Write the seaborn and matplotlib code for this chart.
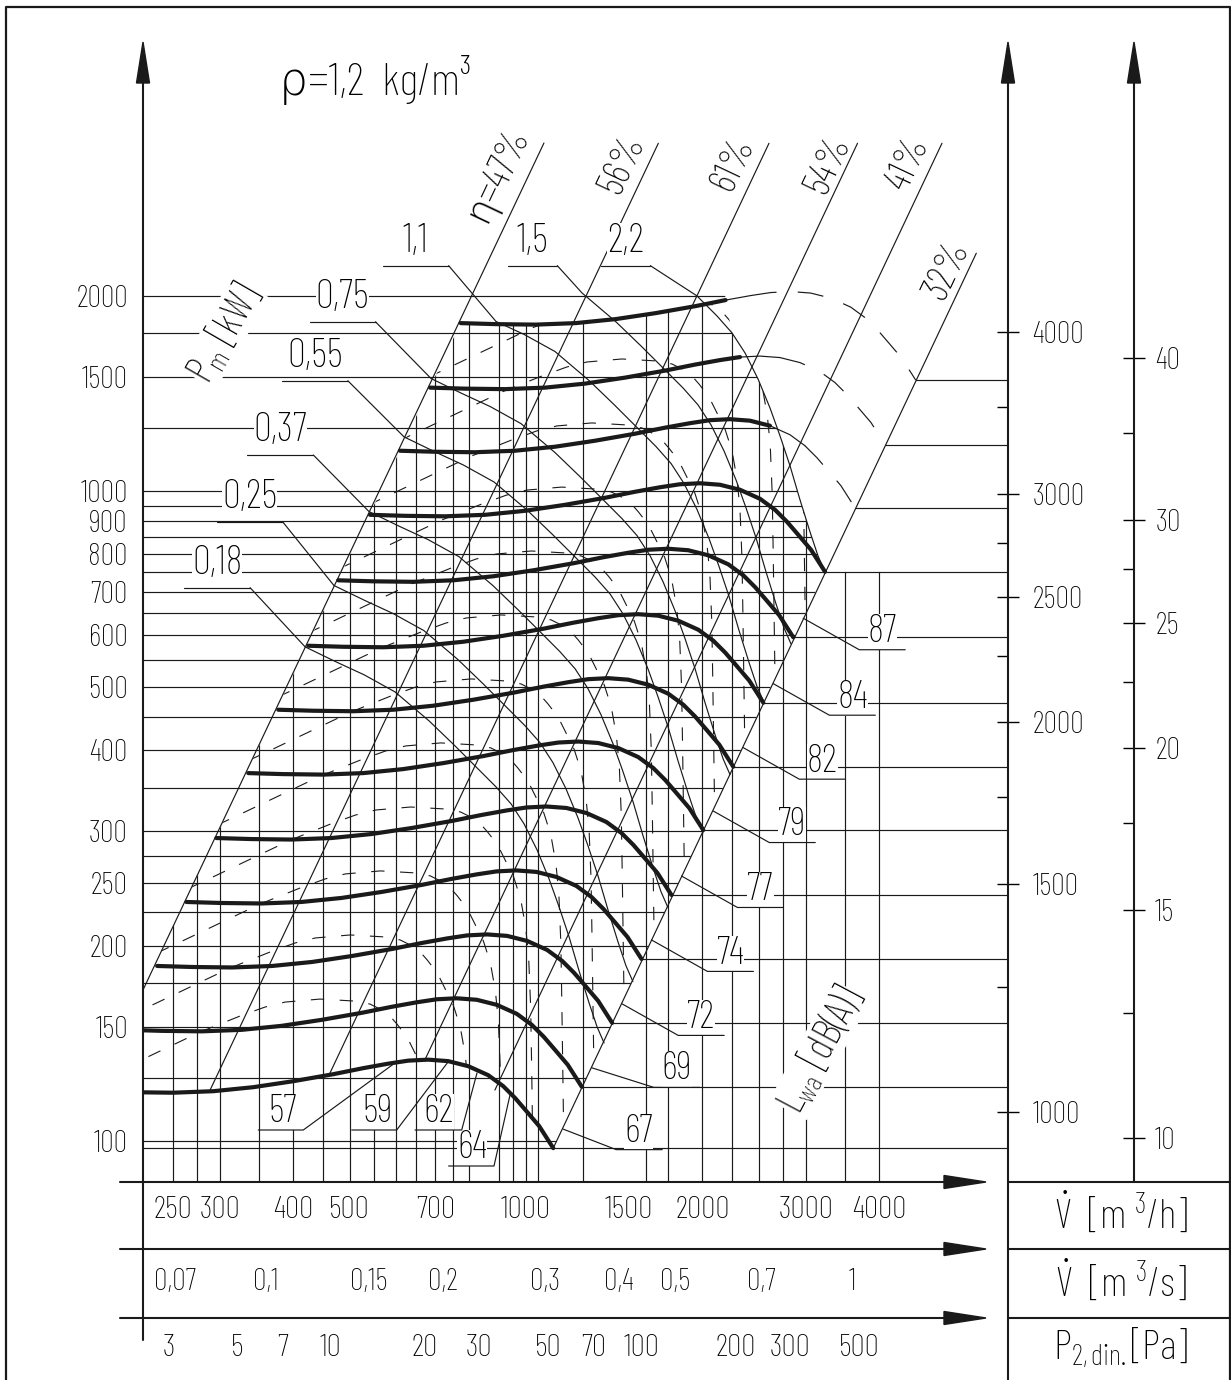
import numpy as np
import matplotlib
matplotlib.use("Agg")
import matplotlib.pyplot as plt
import seaborn as sns
from matplotlib.patches import Polygon
from matplotlib.ticker import NullFormatter, NullLocator

sns.set_theme(style="white")
plt.rcParams["font.family"] = ["Barlow Condensed", "DejaVu Sans"]
plt.rcParams["font.weight"] = "light"
plt.rcParams["mathtext.fontset"] = "custom"
for k in ("rm", "it", "bf", "sf"):
    plt.rcParams["mathtext." + k] = "Barlow Condensed:weight=light"
for k in ("text.color", "axes.labelcolor", "xtick.color", "ytick.color"):
    plt.rcParams[k] = "black"

# ---------------------------------------------------------------- data
# fan speed curves: flow [m3/h] and pressure [Pa] at the right-hand end of each curve
curve_end_V = [1113, 1245, 1403, 1574, 1771, 2007, 2258, 2541, 2858, 3238, 3642, 4099, 4624]
curve_end_p = [97.6, 121.3, 152.1, 190.8, 239.3, 301.2, 377.0, 472.9, 596.3, 752.0, 943.6, 1180, 1483]
# shared shape of the speed curves, as fractions of the end point
curve_shape_V = [0.1673, 0.1920, 0.2246, 0.2629, 0.3076, 0.3600, 0.4213, 0.4738, 0.5231, 0.5657,
                 0.6117, 0.6618, 0.7161, 0.7746, 0.8217, 0.8614, 0.9030, 0.9464, 1.0]
curve_shape_p = [1.2235, 1.2191, 1.2170, 1.2235, 1.2410, 1.2676, 1.2995, 1.3275, 1.3490, 1.3634,
                 1.3682, 1.3610, 1.3369, 1.2949, 1.2454, 1.1935, 1.1360, 1.0810, 1.0]

# motor power lines [kW]
power_kw = ["0,18", "0,25", "0,37", "0,55", "0,75", "1,1", "1,5", "2,2"]
power_end_V = [1359, 1522, 1747, 2005, 2229, 2548, 2833, 3238]
power_end_p = [141.7, 176.1, 228.8, 298.1, 366.6, 473.2, 582.4, 751.5]
power_shape_V = [0.3089, 0.3488, 0.3896, 0.4398, 0.5027, 0.5546, 0.6047, 0.6541, 0.6940, 0.7303,
                 0.7685, 0.8056, 0.8379, 0.8716, 0.9065, 0.9428, 0.9729, 1.0]
power_shape_p = [4.0675, 3.8571, 3.6835, 3.4674, 3.1293, 2.8736, 2.6585, 2.4764, 2.3316, 2.1723,
                 1.9812, 1.7876, 1.6194, 1.4557, 1.2904, 1.1522, 1.0583, 1.0]
power_label_V = [338.2, 384.2, 433.7, 496.5, 553.6, 737.9, 1130.9, 1630]
power_label_p = [710.7, 898.0, 1137, 1479.6, 1823, 2224, 2224, 2224]

# sound power level lines L_wa [dB(A)]
noise_db = [57, 59, 62, 64, 67, 69, 72, 74, 77, 79, 82, 84, 87]
noise_top_V = [445.1, 501.2, 564.2, 635.5, 715.5, 805.7, 907.3, 1021, 1150, 1295, 1458, 1642, 1849]
noise_top_p = [165.5, 207.7, 260.6, 326.8, 410.1, 514.4, 645.3, 809.4, 1015, 1274, 1598, 2005, 2515]
noise_shape_V = [0.3745, 0.4557, 0.6240, 0.7303, 0.8056, 0.8716, 1.0, 1.1474, 1.2170, 1.2657, 1.3164,
                 1.3532, 1.4078, 1.4410, 1.4990, 1.5408, 1.5714, 1.5900, 1.6026, 1.6089, 1.6152, 1.6216, 1.6280]
noise_shape_p = [0.7154, 0.7775, 0.8897, 0.9416, 0.9721, 0.9894, 1.0, 0.9929, 0.9825, 0.9652, 0.9416,
                 0.9153, 0.8740, 0.8379, 0.7803, 0.7222, 0.6536, 0.5878, 0.4924, 0.3981, 0.3107, 0.2424, 0.1891]

# efficiency lines
eta_labels = ["η=47%", "56%", "61%", "54%", "41%", "32%"]
eta_V0 = [222, 289, 463, 672, 885, 1113]
eta_p0 = [170.9, 119.9, 127.4, 133.4, 119.9, 97.6]
eta_V1 = [1073, 1682, 2598, 3679, 5127, 5867]
eta_p1 = [3434, 3431, 3431, 3431, 3431, 2324]

grid_V = [250, 275, 300, 350, 400, 450, 500, 550, 600, 650, 700, 750, 800, 900, 950, 1000, 1050,
          1250, 1600, 1750, 2000, 2250, 2500, 2750, 3000, 3500, 4000]
grid_p = [100, 125, 150, 175, 200, 225, 250, 275, 300, 350, 400, 450, 500, 550, 600, 650, 700,
          800, 850, 900, 950, 1000, 1250, 1500, 1750, 2000]

p_ticks = [100, 150, 200, 250, 300, 400, 500, 600, 700, 800, 900, 1000, 1500, 2000]
Vh_ticks = [250, 300, 400, 500, 700, 1000, 1500, 2000, 3000, 4000]
Vs_ticks = [0.07, 0.08, 0.09, 0.1, 0.15, 0.2, 0.25, 0.3, 0.4, 0.5, 0.6, 0.7, 0.9, 1.0]
Vs_labels = ["0,07", "", "", "0,1", "0,15", "0,2", "", "0,3", "0,4", "0,5", "", "0,7", "", "1"]
Vs_minor = [0.065, 0.075, 0.085, 0.095, 0.125, 0.175, 0.225, 0.275, 0.35, 0.45, 0.55, 0.65, 0.75, 0.8, 0.85, 0.95]
pd_ticks = [3, 4, 5, 6, 7, 10, 15, 20, 25, 30, 40, 50, 70, 100, 150, 200, 300, 500]
pd_labels = ["3", "", "5", "", "7", "10", "", "20", "", "30", "", "50", "70", "100", "", "200", "300", "500"]
pd_minor = [3.5, 4.5, 7.5, 8, 8.5, 9, 9.5, 12.5, 17.5, 22.5, 35, 45, 55, 60, 65, 75, 80, 85, 90, 95,
            125, 175, 225, 250, 275, 350, 400, 450]
n_ticks = [1000, 1500, 2000, 2500, 3000, 4000]
n_minor = [1250, 1750, 2250, 2750, 3500]
u_ticks = [10, 15, 20, 25, 30, 40]
u_minor = [12.5, 17.5, 22.5, 27.5, 35]

# ---------------------------------------------------------------- layout
W, H = 1231, 1380
LW = 0.85
fig = plt.figure(figsize=(W / 100, H / 100), dpi=100)
def rect(x0, y0, x1, y1):
    return [x0 / W, 1 - y1 / H, (x1 - x0) / W, (y1 - y0) / H]
V_LIM, P_LIM = (222.03, 6645.5), (86.57, 4911.7)

ax = fig.add_axes(rect(143, 42, 1008, 1182))
ax.set_xscale("log"); ax.set_yscale("log")
ax.set_xlim(*V_LIM); ax.set_ylim(*P_LIM)
for s in ax.spines.values():
    s.set_visible(False)
ax.patch.set_visible(False)
ax.xaxis.set_major_locator(NullLocator()); ax.xaxis.set_minor_locator(NullLocator())
ax.yaxis.set_minor_locator(NullLocator())
ax.set_yticks(p_ticks); ax.set_yticklabels([str(v) for v in p_ticks])
ax.tick_params(axis="y", direction="out", length=9.4, width=1, labelsize=22, pad=1.5)

def to_px(V, p):
    x, y = ax.transData.transform((V, p))
    return x, H - y

# speed curves: thick where the motor allows, thin then dashed beyond
sV, sp = np.array(curve_shape_V), np.array(curve_shape_p)
breaks = {10: (12, 14), 11: (9, 11), 12: (7, 8)}
for i in range(len(curve_end_V)):
    V, p = sV * curve_end_V[i], sp * curve_end_p[i]
    b1, b2 = breaks.get(i, (len(V) - 1, len(V) - 1))
    sns.lineplot(x=V[:b1 + 1], y=p[:b1 + 1], ax=ax, color="k", lw=3.0, sort=False,
                 estimator=None, legend=False)
    if i in breaks:
        ax.plot(V[b1:b2 + 1], p[b1:b2 + 1], color="k", lw=LW)
        ax.plot(V[b2:], p[b2:], color="k", lw=LW, dashes=(22, 18))

# efficiency lines
for k in range(len(eta_labels)):
    ax.plot([eta_V0[k], eta_V1[k]], [eta_p0[k], eta_p1[k]], color="k", lw=LW)

# clip regions built from the curves
A_V, A_p = sV * curve_end_V[0], sp * curve_end_p[0]
M_V, M_p = sV[:8] * curve_end_V[12], sp[:8] * curve_end_p[12]
S_V = np.array(power_shape_V[8:]) * power_end_V[7]
S_p = np.array(power_shape_p[8:]) * power_end_p[7]
def poly(pts):
    return Polygon(pts, closed=True, transform=ax.transData)
work = poly([(150, A_p[0])] + list(zip(A_V, A_p)) + list(zip(S_V[::-1], S_p[::-1]))
            + list(zip(M_V[::-1], M_p[::-1])) + [(eta_V0[0], eta_p0[0]), (150, eta_p0[0])])
vreg = poly([(150, 50), (150, eta_p0[0]), (eta_V0[0], eta_p0[0])] + list(zip(M_V, M_p))
            + list(zip(S_V, S_p)) + [(9000, S_p[-1]), (9000, 50)])
hreg = poly([(150, 50), (150, 4000), (2050, 4000), (M_V[-1], M_p[-1])] + list(zip(S_V, S_p))
            + [(curve_end_V[0], curve_end_p[0]), (1000, 50)])

for v in grid_V:
    ax.plot([v, v], P_LIM, color="k", lw=LW)[0].set_clip_path(vreg)
for q in grid_p:
    ax.plot(V_LIM, [q, q], color="k", lw=LW)[0].set_clip_path(hreg)
for i in range(len(curve_end_V)):
    x0 = V_LIM[0] if i in (0, 9) else curve_end_V[i]
    ax.plot([x0, V_LIM[1]], [curve_end_p[i]] * 2, color="k", lw=LW)

# sound level lines
nV, nP = np.array(noise_shape_V), np.array(noise_shape_p)
for k in range(len(noise_db)):
    ax.plot(nV * noise_top_V[k], nP * noise_top_p[k], color="k", lw=0.8,
            dashes=(12, 14))[0].set_clip_path(work)

# power lines, each starting at its label
power_first = [0, 0, 0, 0, 0, 1, 3, 6]
pV, pP = np.array(power_shape_V), np.array(power_shape_p)
for j in range(len(power_kw)):
    f = power_first[j]
    V = np.concatenate([[power_label_V[j]], pV[f:] * power_end_V[j]])
    p = np.concatenate([[power_label_p[j]], pP[f:] * power_end_p[j]])
    ax.plot(V, p, color="k", lw=LW)

# ---------------------------------------------------------------- annotation layer
ov = fig.add_axes([0, 0, 1, 1], zorder=5)
ov.set_xlim(0, W); ov.set_ylim(H, 0); ov.axis("off")
white = dict(fc="white", ec="none", pad=0.1)
def ln(xs, ys):
    ov.plot(xs, ys, color="k", lw=LW, zorder=3)
def lab(x, y, s, size, **kw):
    ov.text(x, y, s, fontsize=size, ha="center", va="center", bbox=white, zorder=2, **kw)

for j, name in enumerate(power_kw):
    x, y = to_px(power_label_V[j], power_label_p[j])
    w = 49 if j >= 6 else 66
    ln([x - w, x], [y, y])
    lab(x - w / 2, y - 24.5, name, 29)

eta_off = [(-46, 31), (-36, 21), (-36, 20), (-29, 21), (-33, 20), (-29, 17)]
for k, name in enumerate(eta_labels):
    x, y = to_px(eta_V1[k], eta_p1[k])
    ov.text(x + eta_off[k][0], y + eta_off[k][1], name, fontsize=28, rotation=64.7,
            rotation_mode="anchor", ha="center", va="center")

db_layout = {0: (63, 1.5, 85.5, -16.5), 1: (72, 0.6, 95, -17.5)}
for i in range(9):
    x, y = to_px(curve_end_V[i], curve_end_p[i])
    u0, uy, tx, ty = db_layout.get(i, (66, 12.5, 89, -5))
    ln([x + 10, x + u0, x + u0 + 46], [y - 19, y + uy, y + uy])
    lab(x + tx, y + ty, str(noise_db[i + 4]), 28)

low = [((282.5, 1112), (258.3, 303.3, 1130), (396.7, 1061.7)),
       ((377.5, 1112), (351.7, 396.7, 1130), (448, 1062)),
       ((439, 1112), (415, 461.7, 1130), (477, 1073)),
       ((472, 1148), (448.6, 494, 1166), (510, 1095))]
for k, ((tx, ty), (u0, u1, uy), (lx, ly)) in enumerate(low):
    ln([u0, u1, lx], [uy, uy, ly])
    lab(tx, ty, str(noise_db[k]), 28)

ov.text(375, 80, "ρ=1,2  kg/m³", fontsize=33, ha="center", va="center")
lab(224, 333, r"P$_{m}$ [kW]", 29, rotation=60, rotation_mode="anchor")
lab(820, 1050, r"L$_{wa}$ [dB(A)]", 29, rotation=62, rotation_mode="anchor")

# axis lines, arrows, frame and legend table
def arrow_up(x, ybot):
    ov.plot([x, x], [ybot, 80], color="k", lw=1.5)
    ov.add_patch(Polygon([(x, 42), (x - 6.5, 83), (x + 6.5, 83)], closed=True, color="k"))
def arrow_right(y):
    ov.plot([120, 946], [y, y], color="k", lw=1.5)
    ov.add_patch(Polygon([(986, y), (944, y - 6.5), (944, y + 6.5)], closed=True, color="k"))
arrow_up(143, 1340); arrow_up(1008, 1380); arrow_up(1134, 1182)
for y in (1182, 1249, 1318):
    arrow_right(y)
    ov.plot([1008, 1231], [y, y], color="k", lw=1.5)
ov.plot([6, 6, 1229.5, 1229.5], [1380, 7, 7, 1380], color="k", lw=1.6)
ov.text(1121, 1213, r"$\dot{\mathrm{V}}$  [m $^3$/h]", fontsize=30, ha="center", va="center")
ov.text(1121, 1281, r"$\dot{\mathrm{V}}$  [m $^3$/s]", fontsize=30, ha="center", va="center")
ov.text(1121, 1348, r"P$_{\mathrm{2,din.}}$[Pa]", fontsize=30, ha="center", va="center")

# ---------------------------------------------------------------- extra scales
def bare(a):
    for s in a.spines.values():
        s.set_visible(False)
    a.patch.set_visible(False)
    a.xaxis.set_minor_formatter(NullFormatter()); a.yaxis.set_minor_formatter(NullFormatter())

ah = fig.add_axes(rect(143, 1172, 1008, 1182)); ah.set_xscale("log"); bare(ah)
ah.set_xlim(*V_LIM); ah.set_yticks([])
ah.set_xticks(Vh_ticks); ah.set_xticklabels([str(v) for v in Vh_ticks])
ah.set_xticks([600, 800, 1050, 1600, 2000, 2500], minor=True)
ah.tick_params(axis="x", which="major", length=0, pad=10, labelsize=23)
ah.tick_params(axis="x", which="minor", direction="out", length=8, width=1)

as_ = fig.add_axes(rect(143, 1239, 1008, 1249)); as_.set_xscale("log"); bare(as_)
as_.set_xlim(V_LIM[0] / 3600, V_LIM[1] / 3600); as_.set_yticks([])
as_.set_xticks(Vs_ticks); as_.set_xticklabels(Vs_labels)
as_.set_xticks(Vs_minor, minor=True)
as_.tick_params(axis="x", which="major", direction="inout", length=18.7, width=1, pad=4, labelsize=22)
as_.tick_params(axis="x", which="minor", direction="in", length=9.4, width=1)

ap = fig.add_axes(rect(143, 1308, 1008, 1318)); ap.set_xscale("log"); bare(ap)
ap.set_xlim(2.486, 1502.6); ap.set_yticks([])
ap.set_xticks(pd_ticks); ap.set_xticklabels(pd_labels)
ap.set_xticks(pd_minor, minor=True)
ap.tick_params(axis="x", which="major", direction="inout", length=16.5, width=1, pad=3.5, labelsize=23)
ap.tick_params(axis="x", which="minor", direction="in", length=8.5, width=1)

def right_axis(x, lims, maj, mino, pad):
    a = fig.add_axes(rect(x - 8, 42, x, 1182)); a.set_yscale("log"); bare(a)
    a.set_ylim(*lims); a.set_xticks([])
    a.yaxis.tick_right()
    a.set_yticks(maj); a.set_yticklabels([str(v) for v in maj])
    a.set_yticks(mino, minor=True)
    a.tick_params(axis="y", which="major", direction="inout", length=16.5, width=1, pad=pad, labelsize=22)
    a.tick_params(axis="y", which="minor", direction="in", length=8, width=1)
right_axis(1008, (883.0, 6702.8), n_ticks, n_minor, 9.4)
right_axis(1134, (9.253, 70.17), u_ticks, u_minor, 7)

fig.savefig("out.png", dpi=100, facecolor="white")
